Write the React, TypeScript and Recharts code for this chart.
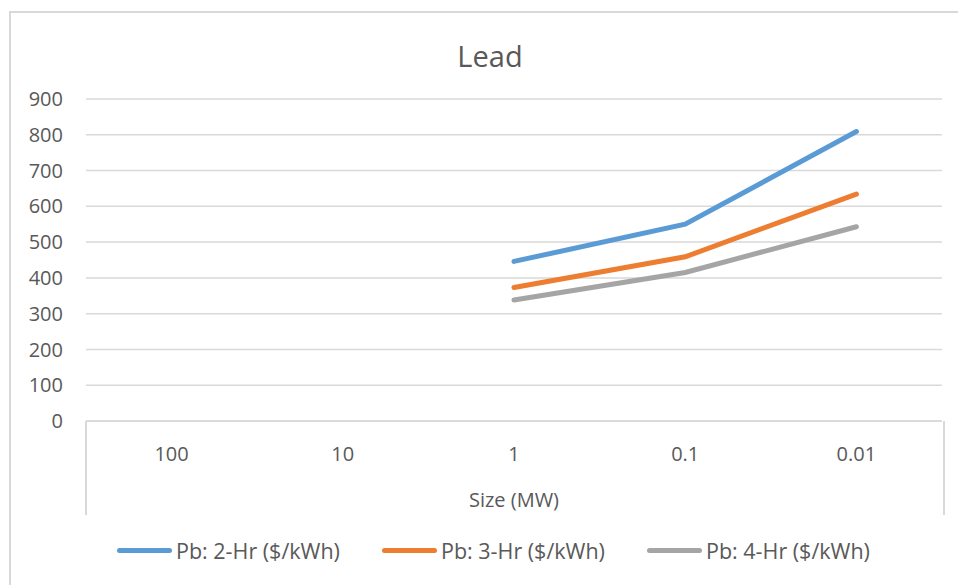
import React from 'react';
import { LineChart, Line, XAxis, YAxis, CartesianGrid, Legend } from 'recharts';

// Size categories along the x axis (MW)
const sizes = ['100', '10', '1', '0.1', '0.01'];
// Lead-acid cost series ($/kWh); no values for the two largest sizes
const pb2Hr: (number | null)[] = [null, null, 446, 550, 809];
const pb3Hr: (number | null)[] = [null, null, 373, 459, 634];
const pb4Hr: (number | null)[] = [null, null, 338, 415, 543];
const yTicks = [0, 100, 200, 300, 400, 500, 600, 700, 800, 900];

const seriesNames = ['Pb: 2-Hr ($/kWh)', 'Pb: 3-Hr ($/kWh)', 'Pb: 4-Hr ($/kWh)'];
const seriesColors = ['#5b9bd5', '#ed7d31', '#a5a5a5'];

const data = sizes.map((s, i) => ({
  size: s,
  pb2: pb2Hr[i],
  pb3: pb3Hr[i],
  pb4: pb4Hr[i],
}));

const FONT = '"Open Sans", Lato, sans-serif';
const TEXT = '#595959';
const GRID = '#d9d9d9';
const FS = 20;

const LegendContent = () => (
  <div style={{ height: 30, position: 'relative', fontFamily: FONT, fontSize: 21.5, color: TEXT }}>
    {seriesNames.map((name, i) => (
      <div
        key={name}
        style={{
          position: 'absolute',
          left: 117 + i * 265,
          top: 0,
          height: 30,
          display: 'flex',
          alignItems: 'center',
          whiteSpace: 'nowrap',
        }}
      >
        <span
          style={{
            display: 'inline-block',
            width: 55,
            height: 5,
            borderRadius: 3,
            background: seriesColors[i],
            marginRight: 4,
          }}
        />
        <span>{name}</span>
      </div>
    ))}
  </div>
);

export default function App() {
  return (
    <div style={{ position: 'absolute', left: 0, top: 0, width: 958, height: 585, background: '#fff', overflow: 'hidden' }}>
      {/* chart frame */}
      <div style={{ position: 'absolute', left: 9, top: 11, width: 960, height: 580, borderLeft: `2px solid ${GRID}`, borderTop: `2px solid ${GRID}` }} />
      {/* title */}
      <div
        style={{
          position: 'absolute',
          left: 390,
          width: 200,
          top: 36,
          textAlign: 'center',
          fontFamily: FONT,
          fontSize: 29,
          color: TEXT,
          lineHeight: '40px',
        }}
      >
        Lead
      </div>
      {/* category axis box sides */}
      <div style={{ position: 'absolute', left: 85, top: 421, width: 856, height: 94, borderLeft: `2px solid ${GRID}`, borderRight: `2px solid ${GRID}` }} />
      <div style={{ position: 'absolute', left: 0, top: 0 }}>
        <LineChart width={958} height={585} data={data} margin={{ top: 99, right: 16, left: 0, bottom: 20 }}>
          <CartesianGrid horizontal vertical={false} stroke={GRID} strokeWidth={1.5} />
          <XAxis
            dataKey="size"
            height={114}
            padding={{ left: 85.6, right: 85.6 }}
            tickLine={false}
            tickSize={0}
            tickMargin={26}
            axisLine={{ stroke: GRID, strokeWidth: 1.5 }}
            tick={{ fill: TEXT, fontSize: FS, fontFamily: FONT }}
            label={{ value: 'Size (MW)', position: 'insideBottom', offset: 28, fill: TEXT, fontSize: FS, fontFamily: FONT }}
          />
          <YAxis
            width={86}
            domain={[0, 900]}
            ticks={yTicks}
            interval={0}
            axisLine={false}
            tickLine={false}
            tickSize={0}
            tickMargin={23}
            tick={{ fill: TEXT, fontSize: FS, fontFamily: FONT }}
          />
          <Legend verticalAlign="bottom" content={() => <LegendContent />} />
          <Line dataKey="pb2" name={seriesNames[0]} stroke={seriesColors[0]} strokeWidth={5} strokeLinecap="round" dot={false} isAnimationActive={false} />
          <Line dataKey="pb3" name={seriesNames[1]} stroke={seriesColors[1]} strokeWidth={5} strokeLinecap="round" dot={false} isAnimationActive={false} />
          <Line dataKey="pb4" name={seriesNames[2]} stroke={seriesColors[2]} strokeWidth={5} strokeLinecap="round" dot={false} isAnimationActive={false} />
        </LineChart>
      </div>
    </div>
  );
}
